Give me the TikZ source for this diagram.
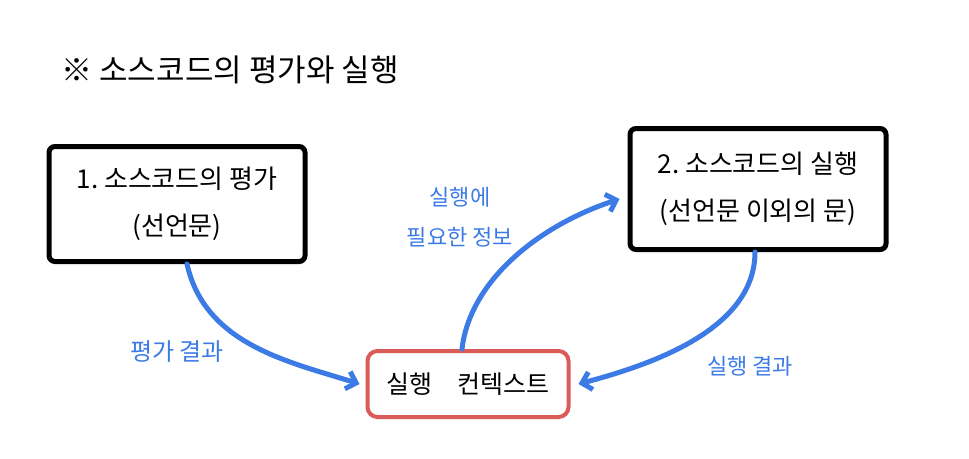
\documentclass[tikz,border=0pt]{standalone}
\usepackage{fontspec}
\setmainfont{Noto Sans CJK KR}
\usetikzlibrary{arrows.meta}
\definecolor{arrowblue}{HTML}{3C7BE6}
\definecolor{ctxred}{HTML}{D95C58}
\begin{document}
\begin{tikzpicture}[x=1pt,y=-1pt,
  stepbox/.style={draw=black,line width=5pt,rounded corners=6pt,minimum width=256pt,inner sep=0pt,align=center,font=\fontsize{26}{47}\selectfont},
  ctxbox/.style={draw=ctxred,line width=4pt,rounded corners=10pt,minimum width=201pt,minimum height=66pt,font=\fontsize{25}{30}\selectfont},
  flow/.style={draw=arrowblue,line width=5pt,line cap=round,-{Straight Barb[length=9pt,width=18pt,line width=5pt]}},
  lbl/.style={text=arrowblue,font=\fontsize{22}{40}\selectfont,align=center}]
\useasboundingbox (0,0) rectangle (969,458);
\node[anchor=west,font=\fontsize{31}{34}\selectfont] (title) at (58,70) {※ 소스코드의 평가와 실행};
\node[stepbox,minimum height=115pt] (s1) at (177,204) {1.\ 소스코드의 평가\\(선언문)};
\node[stepbox,minimum height=121pt] (s2) at (758,189) {2.\ 소스코드의 실행\\(선언문 이외의 문)};
\node[ctxbox] (ctx) at (468,384) {실행\quad 컨텍스트};
\coordinate (a1) at ([xshift=10pt]s1.south);
\coordinate (a2) at ([xshift=-6pt]ctx.north);
\coordinate (a3) at ([xshift=-3pt]s2.south);
\draw[flow] (a1) .. controls (205,345) and (290,362) .. ([xshift=-6pt]ctx.west);
\draw[flow] (a2) .. controls (470,280) and (540,225) .. ([xshift=-8pt,yshift=-10pt]s2.west);
\draw[flow] (a3) .. controls (755,330) and (650,365) .. ([xshift=8pt]ctx.east);
\node[lbl,font=\fontsize{24}{40}\selectfont] (l1) at (177,352) {평가 결과};
\node[lbl] (l2) at (460,217) {실행에\\필요한 정보};
\node[lbl] (l3) at (750,366) {실행 결과};
\end{tikzpicture}
\end{document}
